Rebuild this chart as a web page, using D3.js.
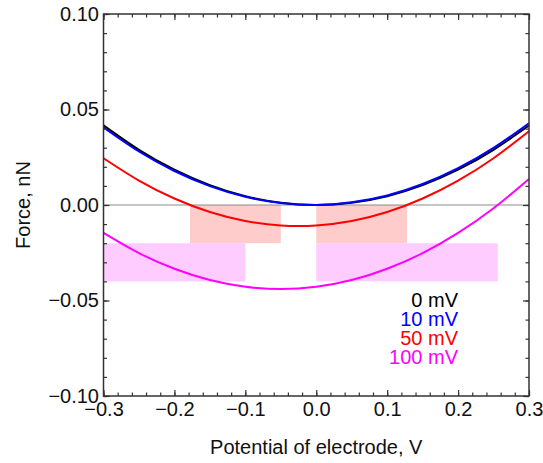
<!DOCTYPE html>
<html>
<head>
<meta charset="utf-8">
<script src="https://cdn.jsdelivr.net/npm/d3@7"></script>
<style>
  body { margin: 0; background: #fff; }
  text { font-family: "Liberation Sans", Arial, sans-serif; }
</style>
</head>
<body>
<div id="chart"></div>
<script>
// potential of electrode (V) where the curves were read
var potential = [-0.30, -0.25, -0.20, -0.15, -0.10, -0.05, 0.00, 0.05, 0.10, 0.15, 0.20, 0.25, 0.30];
// force (nN) for each offset voltage
var force0   = [0.0417, 0.0289, 0.0185, 0.0104, 0.0046, 0.0012, 0.0000, 0.0012, 0.0046, 0.0104, 0.0185, 0.0289, 0.0416];
var force10  = [0.0406, 0.0280, 0.0178, 0.0099, 0.0043, 0.0010, 0.0000, 0.0014, 0.0050, 0.0110, 0.0193, 0.0299, 0.0428];
var force50  = [0.0245, 0.0128, 0.0034, -0.0037, -0.0084, -0.0107, -0.0107, -0.0084, -0.0037, 0.0034, 0.0128, 0.0245, 0.0386];
var force100 = [-0.0146, -0.0252, -0.0334, -0.0393, -0.0428, -0.0440, -0.0428, -0.0393, -0.0334, -0.0252, -0.0146, -0.0017, 0.0136];
var seriesLabels = ["0 mV", "10 mV", "50 mV", "100 mV"];
var seriesColors = ["#000000", "#0000ff", "#ff0000", "#ff00ff"];

// shaded bands: [x0, x1, y0, y1]
var redBands = [[-0.178, -0.05, 0, -0.02], [0, 0.128, 0, -0.02]];
var magentaBands = [[-0.3, -0.1, -0.02, -0.04], [0, 0.256, -0.02, -0.04]];

var xTicks = [-0.3, -0.2, -0.1, 0.0, 0.1, 0.2, 0.3];
var yTicks = [-0.10, -0.05, 0.00, 0.05, 0.10];

var svgWidth = 543, svgHeight = 463;
var margin = {top: 14, right: 14, bottom: 67, left: 103.5};
var chartWidth = svgWidth - margin.left - margin.right;
var chartHeight = svgHeight - margin.top - margin.bottom;

var svg = d3.select("#chart").append("svg")
    .attr("width", svgWidth)
    .attr("height", svgHeight);
var g = svg.append("g")
    .attr("transform", `translate(${margin.left},${margin.top})`);

var xScale = d3.scaleLinear().domain([-0.3, 0.3]).range([0, chartWidth]);
var yScale = d3.scaleLinear().domain([-0.1, 0.1]).range([chartHeight, 0]);

// bands
function drawBands(bands, fill) {
    g.selectAll(null)
        .data(bands)
        .enter()
        .append("rect")
        .attr("x", d => xScale(d[0]))
        .attr("width", d => xScale(d[1]) - xScale(d[0]))
        .attr("y", d => yScale(d[2]))
        .attr("height", d => yScale(d[3]) - yScale(d[2]))
        .attr("fill", fill);
}
drawBands(redBands, "#ffcccc");
drawBands(magentaBands, "#ffccff");

// zero line
g.append("line")
    .attr("x1", 0).attr("x2", chartWidth)
    .attr("y1", yScale(0)).attr("y2", yScale(0))
    .attr("stroke", "#8c8c8c")
    .attr("stroke-width", 1.2);

// curves
var allSeries = [force0, force10, force50, force100];
var line = d3.line()
    .x((d, i) => xScale(potential[i]))
    .y(d => yScale(d))
    .curve(d3.curveNatural);
allSeries.forEach((s, i) => {
    g.append("path")
        .attr("d", line(s))
        .attr("fill", "none")
        .attr("stroke", seriesColors[i])
        .attr("stroke-width", 2);
});

// axes: ticks point inwards on all four sides
var fmtX = d3.format(".1f"), fmtY = d3.format(".2f");
var xMinor = d3.range(-0.3, 0.3001, 0.02);
var yMinor = d3.range(-0.1, 0.1001, 0.01);

function styleAxis(sel) {
    sel.selectAll("path").remove();
    sel.selectAll("line").attr("stroke", "#333").attr("stroke-width", 1.2);
    sel.selectAll("text").attr("font-size", "20px").attr("fill", "#111")
        .style("font-family", "'Liberation Sans', Arial, sans-serif");
}

g.append("g").attr("transform", `translate(0,${chartHeight})`)
    .call(d3.axisBottom(xScale).tickValues(xMinor).tickSize(-3.5).tickFormat(""))
    .call(styleAxis);
g.append("g").attr("transform", `translate(0,${chartHeight})`)
    .call(d3.axisBottom(xScale).tickValues(xTicks).tickSize(-6).tickPadding(6).tickFormat(fmtX))
    .call(styleAxis);
g.append("g")
    .call(d3.axisTop(xScale).tickValues(xMinor).tickSize(-3.5).tickFormat(""))
    .call(styleAxis);
g.append("g")
    .call(d3.axisTop(xScale).tickValues(xTicks).tickSize(-6).tickFormat(""))
    .call(styleAxis);

g.append("g")
    .call(d3.axisLeft(yScale).tickValues(yMinor).tickSize(-3.5).tickFormat(""))
    .call(styleAxis);
g.append("g")
    .call(d3.axisLeft(yScale).tickValues(yTicks).tickSize(-6).tickPadding(4.5).tickFormat(fmtY))
    .call(styleAxis);
g.append("g").attr("transform", `translate(${chartWidth},0)`)
    .call(d3.axisRight(yScale).tickValues(yMinor).tickSize(-3.5).tickFormat(""))
    .call(styleAxis);
g.append("g").attr("transform", `translate(${chartWidth},0)`)
    .call(d3.axisRight(yScale).tickValues(yTicks).tickSize(-6).tickFormat(""))
    .call(styleAxis);

// frame
g.append("rect")
    .attr("width", chartWidth).attr("height", chartHeight)
    .attr("fill", "none")
    .attr("stroke", "#333")
    .attr("stroke-width", 1.5);

// axis titles
g.append("text")
    .attr("x", chartWidth / 2)
    .attr("y", chartHeight + 57.5)
    .attr("text-anchor", "middle")
    .attr("font-size", "20px")
    .attr("fill", "#111")
    .text("Potential of electrode, V");
g.append("text")
    .attr("transform", `translate(${30 - margin.left},${chartHeight / 2})rotate(-90)`)
    .attr("text-anchor", "middle")
    .attr("font-size", "20px")
    .attr("fill", "#111")
    .text("Force, nN");

// legend
g.selectAll(".legend")
    .data(seriesLabels)
    .enter()
    .append("text")
    .attr("class", "legend")
    .attr("x", 458 - margin.left)
    .attr("y", (d, i) => 306.5 - margin.top + i * 19.3)
    .attr("text-anchor", "end")
    .attr("font-size", "20px")
    .attr("fill", (d, i) => seriesColors[i])
    .text(d => d);
</script>
</body>
</html>
